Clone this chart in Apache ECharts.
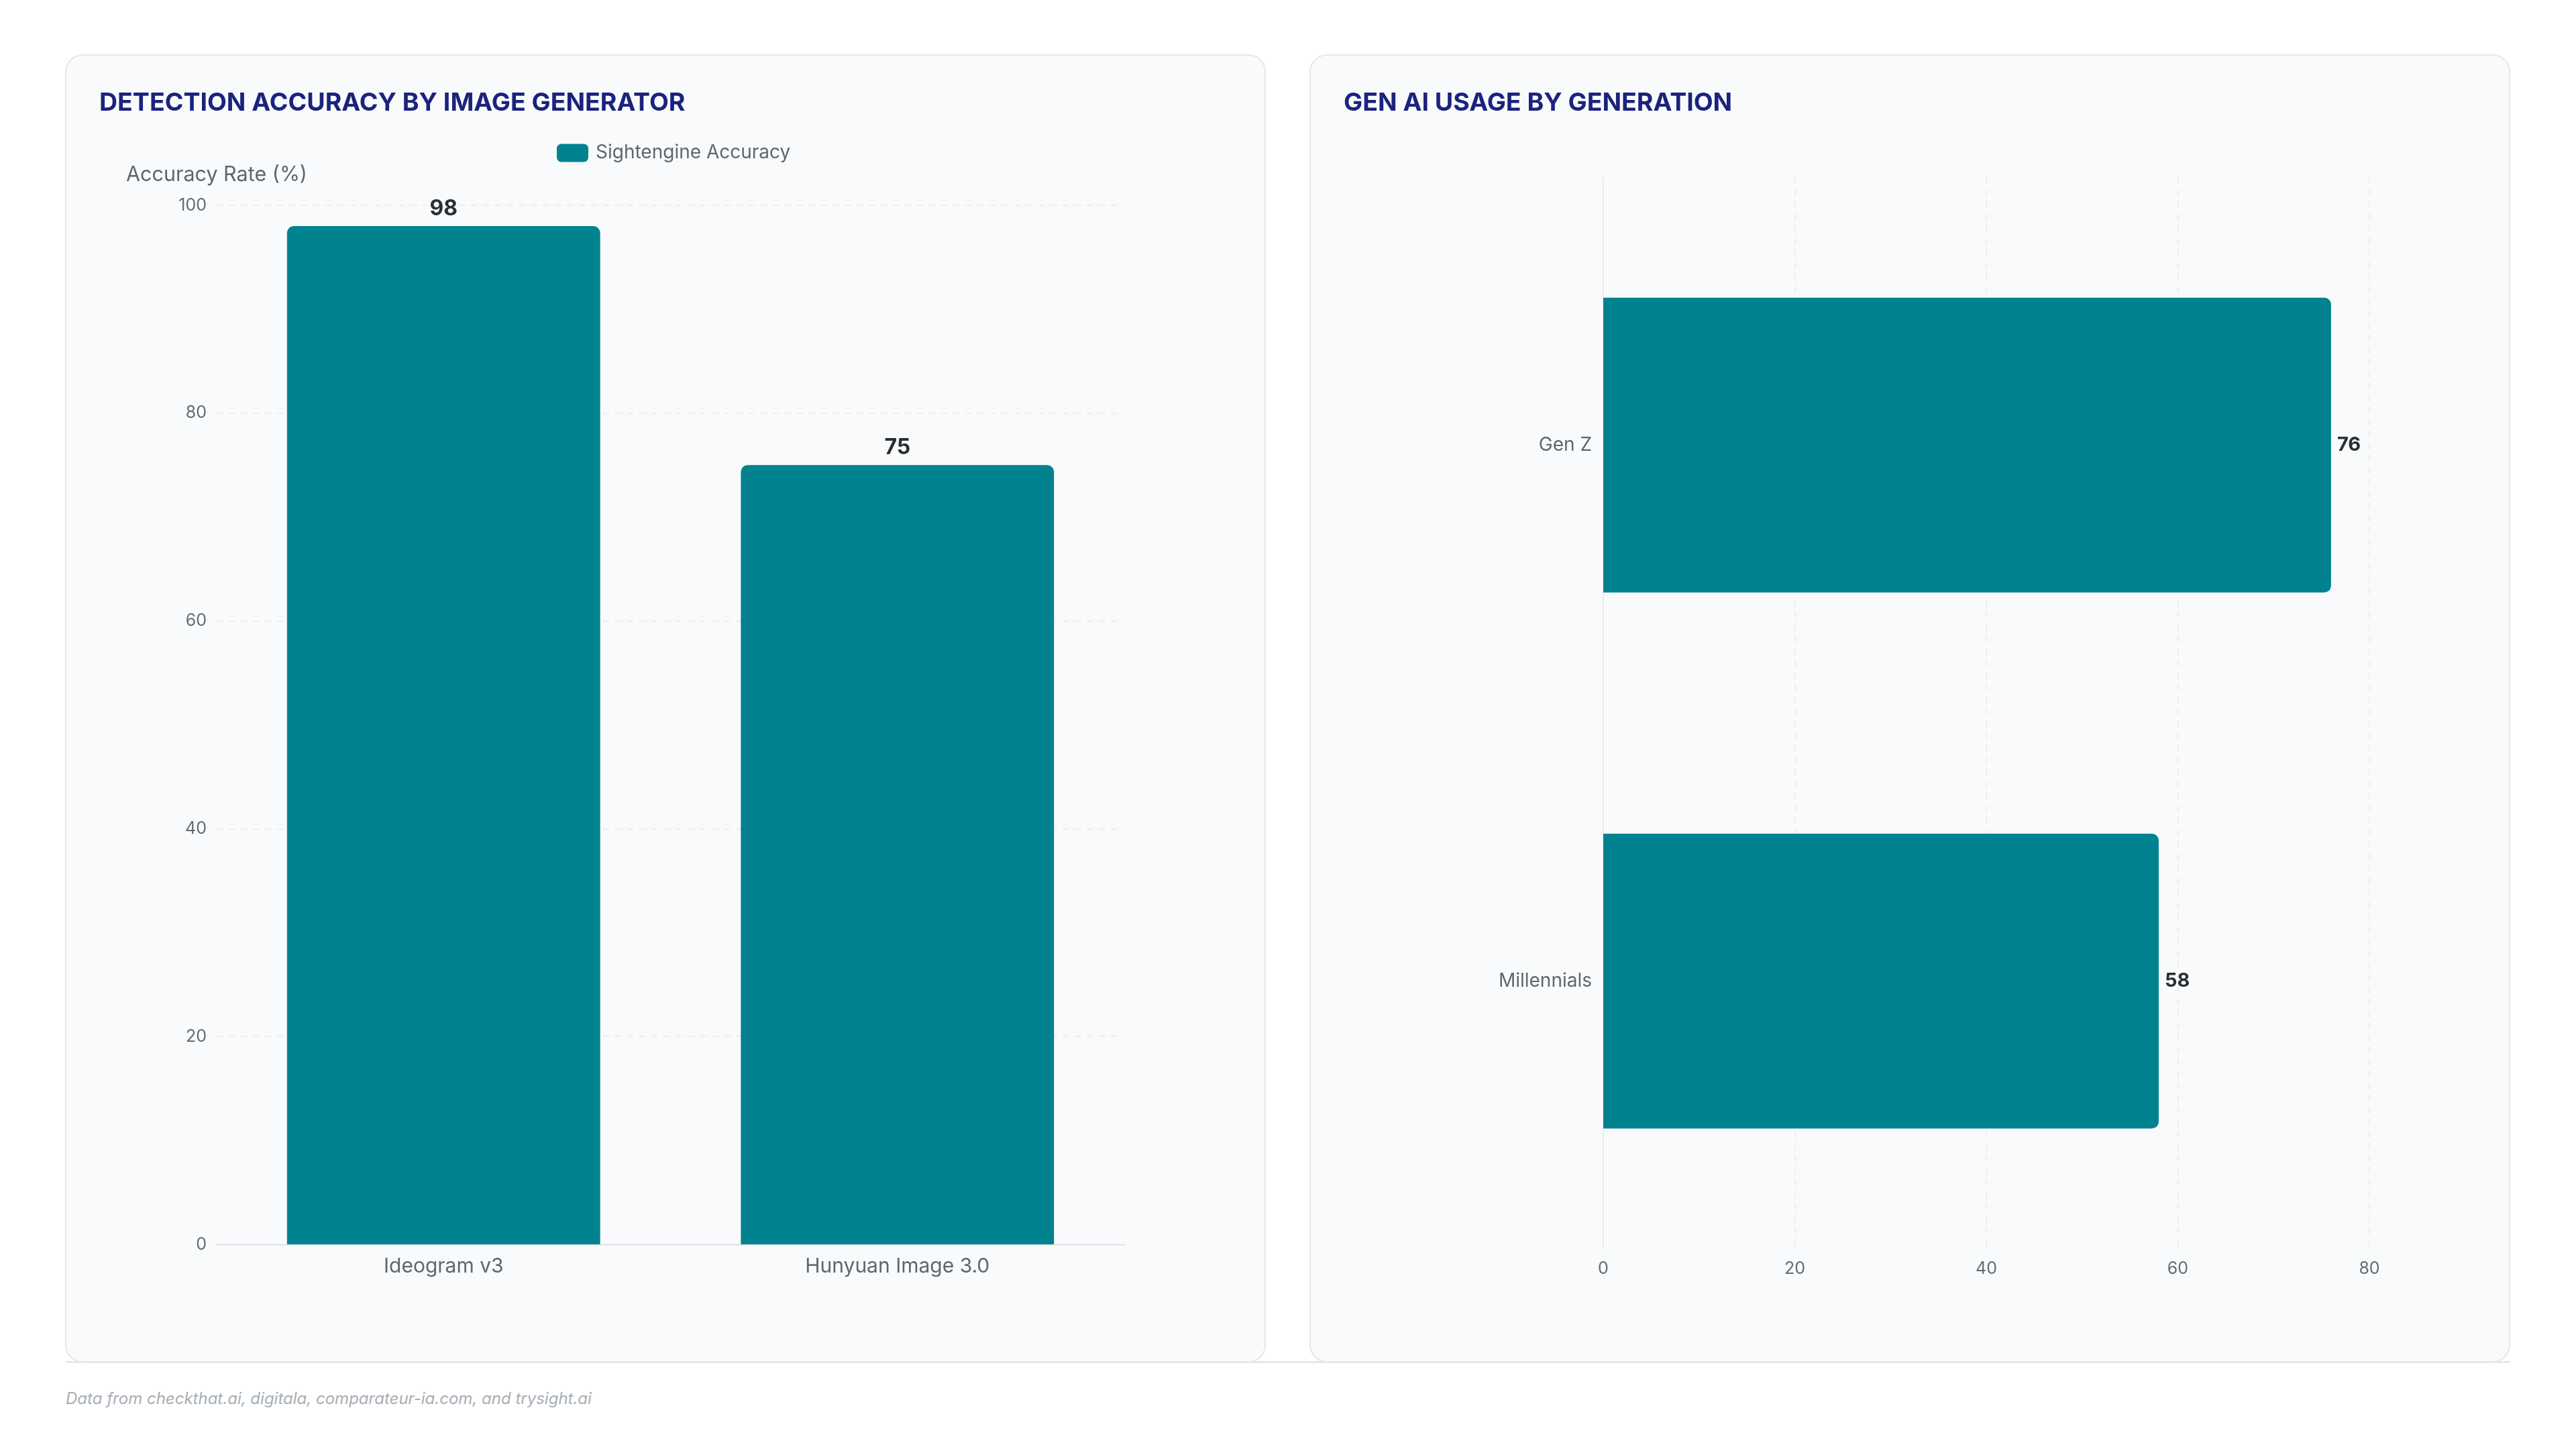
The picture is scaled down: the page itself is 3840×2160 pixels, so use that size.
<!DOCTYPE html>
<html>
<head>
<meta charset="utf-8">
<title>Detection accuracy and Gen AI usage</title>
<script src="https://cdn.jsdelivr.net/npm/echarts@6/dist/echarts.min.js"></script>
<style>
	html, body { margin: 0; padding: 0; background: #ffffff; }
	body { width: 3840px; height: 2160px; position: relative; font-family: Inter, "Noto Sans", sans-serif; }
	.card { position: absolute; top: 81px; width: 1786px; height: 1946px; background: #f9fafb; border: 2px solid #e5e7eb; border-radius: 26px; }
	.chart { width: 100%; height: 100%; }
	#rule { position: absolute; left: 98px; top: 2029px; width: 3644px; height: 3px; background: #e6e8eb; }
	#note { position: absolute; left: 98px; top: 2070px; font-size: 24px; font-style: italic; color: #a7aeb5; }
</style>
</head>
<body>
<div class="card" style="left:97px"><div id="chart1" class="chart"></div></div>
<div class="card" style="left:1952px"><div id="chart2" class="chart"></div></div>
<div id="rule"></div>
<div id="note">Data from checkthat.ai, digitala, comparateur-ia.com, and trysight.ai</div>
<script>
// data
var generators = ['Ideogram v3', 'Hunyuan Image 3.0'];
var accuracy = [98, 75];          // Sightengine Accuracy (%)
var generations = ['Gen Z', 'Millennials'];
var usage = [76, 58];             // Gen AI usage

var TEAL = '#00838f';
var TITLE = '#1a237e';
var FONT = 'Inter';

// left chart: vertical bars
var chart1 = echarts.init(document.getElementById('chart1'));
chart1.setOption({
	animation: false,
	textStyle: { fontFamily: FONT },
	title: {
		text: 'DETECTION ACCURACY BY IMAGE GENERATOR',
		left: 49, top: 52, padding: 0,
		textStyle: { fontFamily: FONT, fontSize: 37.5, fontWeight: 'bold', color: TITLE }
	},
	legend: {
		data: ['Sightengine Accuracy'],
		left: 731, top: 131, padding: 0,
		itemWidth: 47, itemHeight: 27, itemGap: 12,
		icon: 'roundRect',
		textStyle: { fontFamily: FONT, fontSize: 28, color: '#5f676b', padding: [0, 0, 0, 6] }
	},
	grid: { left: 224, right: 209, top: 223, bottom: 174 },
	xAxis: {
		type: 'category',
		data: generators,
		axisLine: { lineStyle: { color: '#e6e8eb', width: 3 } },
		axisTick: { show: false },
		axisLabel: { fontFamily: FONT, fontSize: 30, color: '#5f676b', margin: 18 }
	},
	yAxis: {
		type: 'value',
		min: 0, max: 100, interval: 20,
		name: 'Accuracy Rate (%)',
		nameGap: 30,
		nameTextStyle: { fontFamily: FONT, fontSize: 30.5, color: '#5f676b' },
		axisLine: { show: false },
		axisTick: { show: false },
		axisLabel: { fontFamily: FONT, fontSize: 25, color: '#646c70', margin: 15 },
		splitLine: { lineStyle: { color: '#eceef0', type: [10, 8], width: 2 } }
	},
	series: [{
		name: 'Sightengine Accuracy',
		type: 'bar',
		data: accuracy,
		barWidth: '69%',
		itemStyle: { color: TEAL, borderRadius: [10, 10, 0, 0] },
		label: {
			show: true, position: 'top', distance: 10,
			fontFamily: FONT, fontSize: 32, fontWeight: 'bold', color: '#2b2f31'
		}
	}]
});

// right chart: horizontal bars
var chart2 = echarts.init(document.getElementById('chart2'));
chart2.setOption({
	animation: false,
	textStyle: { fontFamily: FONT },
	title: {
		text: 'GEN AI USAGE BY GENERATION',
		left: 49, top: 52, padding: 0,
		textStyle: { fontFamily: FONT, fontSize: 37.5, fontWeight: 'bold', color: TITLE }
	},
	grid: { left: 436, right: 208, top: 181, bottom: 167 },
	xAxis: {
		type: 'value',
		min: 0, max: 80, interval: 20,
		axisLine: { show: false },
		axisTick: { show: false },
		axisLabel: { fontFamily: FONT, fontSize: 25, color: '#646c70', margin: 17 },
		splitLine: { lineStyle: { color: '#eceef0', type: [10, 8], width: 2 } }
	},
	yAxis: {
		type: 'category',
		inverse: true,
		data: generations,
		axisLine: { lineStyle: { color: '#e9ebee', width: 2 } },
		axisTick: { show: false },
		axisLabel: { fontFamily: FONT, fontSize: 28, color: '#5f676b', margin: 17 }
	},
	series: [{
		name: 'Gen AI Usage',
		type: 'bar',
		data: usage,
		barWidth: '55%',
		itemStyle: { color: TEAL, borderRadius: [0, 10, 10, 0] },
		label: {
			show: true, position: 'right', distance: 9,
			fontFamily: FONT, fontSize: 29, fontWeight: 'bold', color: '#2b2f31'
		}
	}]
});
</script>
</body>
</html>
